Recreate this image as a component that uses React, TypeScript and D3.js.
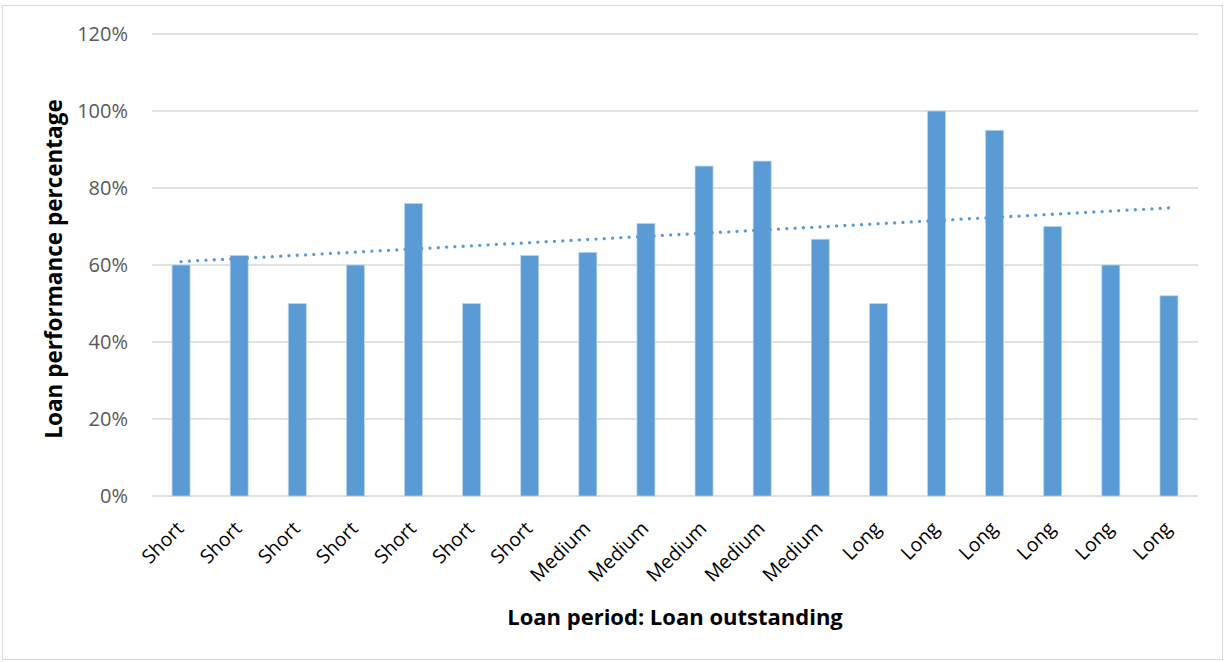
import React from "react";
import * as d3 from "d3";

const categories: string[] = [
  "Short", "Short", "Short", "Short", "Short", "Short", "Short",
  "Medium", "Medium", "Medium", "Medium", "Medium",
  "Long", "Long", "Long", "Long", "Long", "Long",
];
const values: number[] = [
  60, 62.5, 50, 60, 76, 50, 62.5, 63.3, 70.8, 85.7, 87, 66.7, 50, 100, 95, 70, 60, 52,
];
const yTicks: number[] = [0, 20, 40, 60, 80, 100, 120];

const W = 1225;
const H = 662;
const margin = { left: 152, right: 27, top: 34, bottom: 166 };
const font = "'Open Sans', Carlito, Calibri, sans-serif";

export default function App() {
  const x = d3
    .scaleBand<number>()
    .domain(categories.map((_, i) => i))
    .range([margin.left, W - margin.right])
    .paddingInner(0.69)
    .paddingOuter(0.345);
  const y = d3.scaleLinear().domain([0, 120]).range([H - margin.bottom, margin.top]);

  // linear regression trendline
  const n = values.length;
  const xs = values.map((_, i) => i + 1);
  const mx = d3.mean(xs)!;
  const my = d3.mean(values)!;
  const sxy = d3.sum(xs.map((xi, i) => (xi - mx) * (values[i] - my)));
  const sxx = d3.sum(xs.map((xi) => (xi - mx) * (xi - mx)));
  const slope = sxy / sxx;
  const intercept = my - slope * mx;
  const trend = [0, n - 1].map((i) => ({ i, v: intercept + slope * (i + 1) }));
  const line = d3
    .line<{ i: number; v: number }>()
    .x((d) => x(d.i)! + x.bandwidth() / 2)
    .y((d) => y(d.v));

  const bw = x.bandwidth();

  return (
    <svg
      width={W}
      height={H}
      style={{ position: "absolute", left: 0, top: 0, background: "#fff" }}
      fontFamily={font}
    >
      <rect x={2.5} y={5.5} width={W - 5} height={H - 8} fill="#fff" stroke="#D9D9D9" strokeWidth={1} />
      {yTicks.map((t) => (
        <g key={t}>
          <line
            x1={margin.left}
            x2={W - margin.right}
            y1={y(t)}
            y2={y(t)}
            stroke="#D9D9D9"
            strokeWidth={1.5}
          />
          <text
            x={margin.left - 24}
            y={y(t)}
            dy="0.36em"
            textAnchor="end"
            fontSize={20}
            fill="#595959"
          >
            {t}%
          </text>
        </g>
      ))}
      {values.map((v, i) => (
        <rect
          key={i}
          x={x(i)!}
          y={y(v)}
          width={bw}
          height={y(0) - y(v)}
          fill="#5B9BD5"
          stroke="#BDD7EE"
          strokeWidth={0.75}
        />
      ))}
      <path
        d={line(trend)!}
        fill="none"
        stroke="#5B9BD5"
        strokeWidth={3.3}
        strokeLinecap="round"
        strokeDasharray="0.01 8.3"
      />
      {categories.map((c, i) => {
        const cx = x(i)! + bw / 2 - 1;
        const cy = y(0) + 29;
        return (
          <text
            key={i}
            transform={`translate(${cx},${cy}) rotate(-45)`}
            textAnchor="end"
            dy="0.35em"
            fontSize={19.5}
            fill="#000"
          >
            {c}
          </text>
        );
      })}
      <text
        x={675}
        y={625}
        textAnchor="middle"
        fontSize={22}
        fontWeight="bold"
        fill="#000"
      >
        Loan period: Loan outstanding
      </text>
      <text
        transform={`translate(62,269) rotate(-90)`}
        textAnchor="middle"
        fontSize={22.5}
        fontWeight="bold"
        fill="#000"
      >
        Loan performance percentage
      </text>
    </svg>
  );
}
